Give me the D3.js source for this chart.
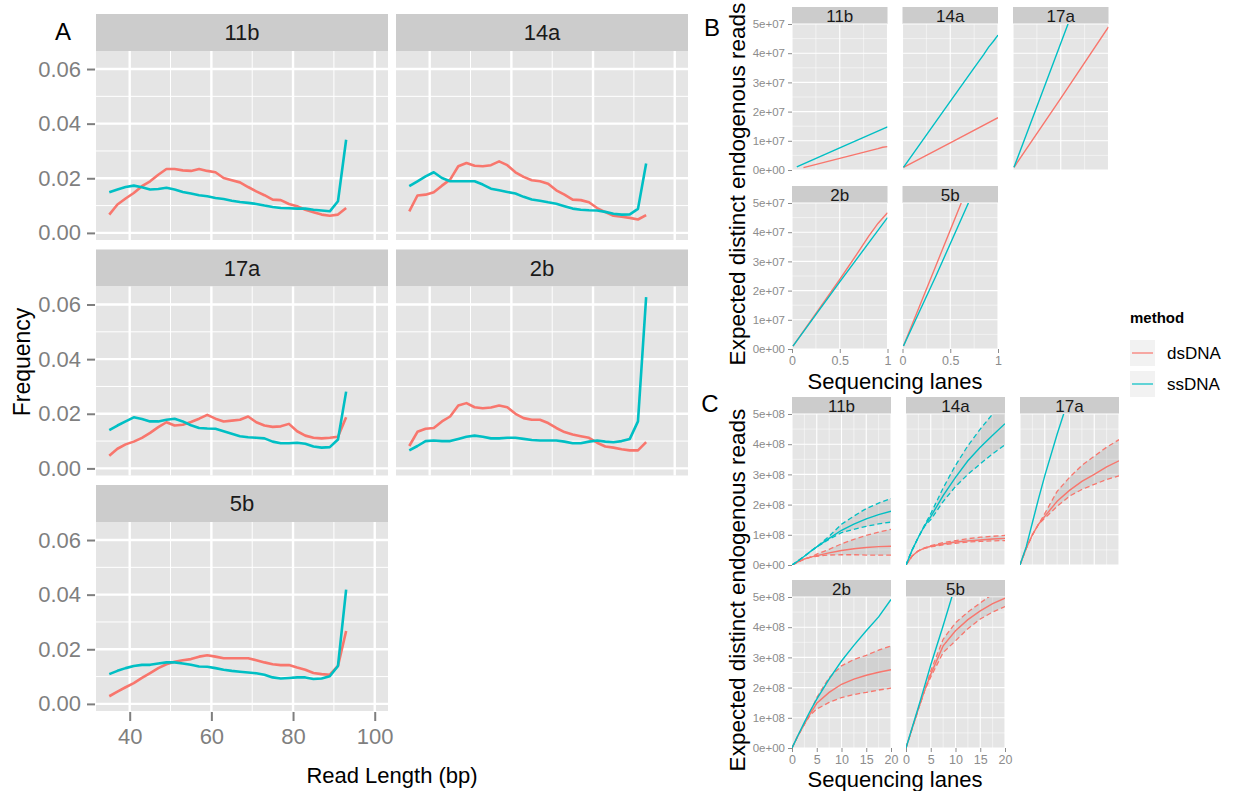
<!DOCTYPE html>
<html>
<head>
<meta charset="utf-8">
<script src="https://cdn.jsdelivr.net/npm/d3@7"></script>
<style>
  body { margin: 0; background: #fff; }
  text { font-family: "Liberation Sans", Arial, sans-serif; }
</style>
</head>
<body>
<svg width="1233" height="791"></svg>
<script>
// ---- data ----
const methods = ['dsDNA', 'ssDNA'];
const methodColors = ['#F8766D', '#00BFC4'];
const samples = ['11b', '14a', '17a', '2b', '5b'];

// panel A: read length distribution
const readLen = [35,37,39,41,43,45,47,49,51,53,55,57,59,61,63,65,67,69,71,73,75,77,79,81,83,85,87,89,91,93];
const freq11bDs = [0.0067,0.0104,0.0126,0.0146,0.0171,0.0189,0.0213,0.0234,0.0234,0.0229,0.0227,0.0234,0.0227,0.0222,0.0201,0.0193,0.0185,0.0168,0.0152,0.0138,0.0122,0.0120,0.0106,0.0098,0.0085,0.0076,0.0067,0.0063,0.0067,0.0091];
const freq11bSs = [0.0149,0.0159,0.0168,0.0173,0.0167,0.0159,0.0161,0.0165,0.0159,0.0150,0.0144,0.0138,0.0134,0.0128,0.0124,0.0118,0.0113,0.0110,0.0106,0.0100,0.0095,0.0091,0.0090,0.0089,0.0089,0.0085,0.0082,0.0079,0.0116,0.0341];
const freq14aDs = [0.0079,0.0137,0.0140,0.0149,0.0173,0.0195,0.0244,0.0256,0.0246,0.0244,0.0248,0.0262,0.0248,0.0222,0.0205,0.0193,0.0189,0.0180,0.0156,0.0140,0.0122,0.0120,0.0112,0.0091,0.0076,0.0063,0.0059,0.0055,0.0049,0.0065];
const freq14aSs = [0.0171,0.0189,0.0207,0.0222,0.0201,0.0189,0.0189,0.0189,0.0189,0.0177,0.0162,0.0156,0.0150,0.0144,0.0132,0.0122,0.0118,0.0112,0.0107,0.0098,0.0089,0.0085,0.0083,0.0082,0.0077,0.0070,0.0067,0.0068,0.0088,0.0254];
const freq17aDs = [0.0046,0.0072,0.0088,0.0098,0.0112,0.0130,0.0151,0.0169,0.0157,0.0160,0.0170,0.0182,0.0196,0.0182,0.0172,0.0175,0.0178,0.0190,0.0169,0.0157,0.0152,0.0154,0.0163,0.0136,0.0120,0.0112,0.0110,0.0112,0.0116,0.0187];
const freq17aSs = [0.0140,0.0157,0.0172,0.0187,0.0181,0.0172,0.0172,0.0178,0.0182,0.0172,0.0158,0.0148,0.0146,0.0145,0.0136,0.0127,0.0118,0.0114,0.0112,0.0110,0.0098,0.0092,0.0092,0.0094,0.0090,0.0080,0.0076,0.0078,0.0106,0.0281];
const freq2bDs = [0.0082,0.0134,0.0145,0.0148,0.0172,0.0190,0.0230,0.0239,0.0224,0.0220,0.0223,0.0230,0.0224,0.0200,0.0184,0.0178,0.0178,0.0166,0.0148,0.0133,0.0124,0.0118,0.0112,0.0094,0.0080,0.0076,0.0070,0.0066,0.0066,0.0096];
const freq2bSs = [0.0066,0.0082,0.0100,0.0102,0.0100,0.0100,0.0108,0.0116,0.0120,0.0116,0.0110,0.0110,0.0112,0.0112,0.0108,0.0104,0.0102,0.0102,0.0102,0.0098,0.0092,0.0092,0.0098,0.0102,0.0098,0.0096,0.0100,0.0108,0.0172,0.0627];
const freq5bDs = [0.0028,0.0045,0.0061,0.0076,0.0095,0.0113,0.0131,0.0145,0.0154,0.0160,0.0164,0.0173,0.0178,0.0173,0.0167,0.0167,0.0167,0.0167,0.0160,0.0152,0.0145,0.0142,0.0142,0.0133,0.0125,0.0113,0.0109,0.0107,0.0139,0.0267];
const freq5bSs = [0.0109,0.0121,0.0131,0.0139,0.0143,0.0143,0.0148,0.0152,0.0152,0.0148,0.0143,0.0137,0.0136,0.0131,0.0125,0.0121,0.0118,0.0115,0.0112,0.0107,0.0097,0.0093,0.0095,0.0097,0.0097,0.0091,0.0093,0.0101,0.0139,0.0418];

// panel B: [lanes, expected reads] for one lane
const b11bDs = [[0.12,0.08e7],[0.5,0.4e7],[0.9,0.73e7],[0.95,0.78e7],[1,0.8e7]];
const b11bSs = [[0.05,0.11e7],[0.5,0.76e7],[1,1.48e7]];
const b14aDs = [[0.01,0.09e7],[0.5,0.93e7],[1,1.79e7]];
const b14aSs = [[0.01,0.09e7],[0.5,2.35e7],[0.75,3.5e7],[0.85,3.95e7],[0.9,4.2e7],[0.95,4.4e7],[1,4.62e7]];
const b17aDs = [[0.01,0.09e7],[0.5,2.45e7],[1,4.9e7]];
const b17aSs = [[0.01,0.09e7],[0.3,2.6e7],[0.576,5.0e7]];
const b2bDs = [[0.01,0.1e7],[0.5,2.38e7],[0.7,3.35e7],[0.8,3.85e7],[0.9,4.3e7],[1,4.67e7]];
const b2bSs = [[0.01,0.1e7],[0.5,2.3e7],[1,4.5e7]];
const b5bDs = [[0.01,0.1e7],[0.3,2.45e7],[0.615,5.0e7]];
const b5bSs = [[0.01,0.1e7],[0.35,2.5e7],[0.69,5.0e7]];

// panel C: lanes grid and expected reads (x1e8): mid, low, high
const cLanes = [0,1.25,2.5,3.75,5,7.5,10,12.5,15,17.5,20];
const c11bDsMid = [0,0.10,0.20,0.26,0.31,0.40,0.48,0.54,0.58,0.61,0.62];
const c11bDsLo  = [0,0.10,0.20,0.26,0.29,0.33,0.34,0.34,0.33,0.33,0.33];
const c11bDsHi  = [0,0.10,0.20,0.26,0.36,0.52,0.70,0.85,0.98,1.09,1.18];
const c11bSsMid = [0,0.14,0.29,0.45,0.60,0.88,1.15,1.35,1.53,1.67,1.78];
const c11bSsLo  = [0,0.14,0.29,0.45,0.60,0.85,1.07,1.18,1.28,1.36,1.42];
const c11bSsHi  = [0,0.14,0.29,0.45,0.60,0.95,1.35,1.62,1.87,2.05,2.20];
const c14aDsMid = [0,0.30,0.47,0.56,0.62,0.70,0.76,0.80,0.83,0.86,0.88];
const c14aDsLo  = [0,0.30,0.47,0.55,0.60,0.67,0.72,0.76,0.78,0.80,0.81];
const c14aDsHi  = [0,0.30,0.47,0.57,0.64,0.74,0.81,0.87,0.92,0.95,0.98];
const c14aSsMid = [0,0.50,0.92,1.30,1.60,2.30,2.90,3.45,3.90,4.30,4.68];
const c14aSsLo  = [0,0.50,0.92,1.28,1.50,2.10,2.60,3.00,3.35,3.68,3.98];
const c14aSsHi  = [0,0.50,0.92,1.32,1.70,2.55,3.30,3.95,4.50,5.00,5.45];
const c17aDsMid = [0,0.55,1.00,1.35,1.61,2.11,2.47,2.77,3.00,3.25,3.45];
const c17aDsLo  = [0,0.55,1.00,1.35,1.55,1.94,2.28,2.50,2.67,2.83,2.95];
const c17aDsHi  = [0,0.55,1.00,1.35,1.70,2.44,2.90,3.30,3.60,3.90,4.15];
const c17aSsMid = [0,0.60,1.40,2.20,2.95,4.33,5.60,null,null,null,null];
const c2bDsMid  = [0,0.42,0.79,1.15,1.48,1.84,2.11,2.28,2.41,2.51,2.59];
const c2bDsLo   = [0,0.42,0.79,1.10,1.29,1.51,1.67,1.77,1.84,1.92,1.98];
const c2bDsHi   = [0,0.42,0.79,1.20,1.67,2.33,2.72,2.93,3.07,3.24,3.38];
const c2bSsMid  = [0,0.43,0.85,1.25,1.62,2.28,2.88,3.40,3.88,4.34,4.92];
const c5bDsMid  = [0,0.65,1.29,1.90,2.44,3.38,3.88,4.25,4.54,4.78,4.96];
const c5bDsLo   = [0,0.65,1.29,1.90,2.35,3.16,3.55,3.95,4.27,4.50,4.68];
const c5bDsHi   = [0,0.65,1.29,1.90,2.55,3.60,4.15,4.50,4.80,5.10,5.35];
const c5bSsMid  = [0,0.68,1.35,2.05,2.75,4.05,5.40,null,null,null,null];

// ---- drawing ----
const svg = d3.select('svg');
let clipN = 0;

function facet(o) {
  const g = svg.append('g');
  const top = o.y + o.stripH;
  g.append('rect').attr('x', o.x).attr('y', o.y).attr('width', o.w).attr('height', o.stripH).attr('fill', '#cccccc');
  g.append('text').attr('x', o.x + o.w / 2).attr('y', o.y + o.stripH / 2).attr('dy', '0.36em')
    .attr('text-anchor', 'middle').attr('font-size', o.stripFont).attr('fill', '#1a1a1a').text(o.label);
  g.append('rect').attr('x', o.x).attr('y', top).attr('width', o.w).attr('height', o.h).attr('fill', '#e5e5e5');
  const sx = d3.scaleLinear().domain(o.xDomain).range([o.x, o.x + o.w]);
  const sy = d3.scaleLinear().domain(o.yDomain).range([top + o.h, top]);
  const grid = (vals, w, vertical) => {
    vals.forEach(v => {
      const l = g.append('line').attr('stroke', '#fff').attr('stroke-width', w);
      if (vertical) l.attr('x1', sx(v)).attr('x2', sx(v)).attr('y1', top).attr('y2', top + o.h);
      else l.attr('x1', o.x).attr('x2', o.x + o.w).attr('y1', sy(v)).attr('y2', sy(v));
    });
  };
  grid(o.yMinor, o.minorW, false);
  grid(o.xMinor, o.minorW, true);
  grid(o.yMajor, o.majorW, false);
  grid(o.xMajor, o.majorW, true);
  const id = 'clip' + (clipN++);
  svg.append('clipPath').attr('id', id).append('rect')
    .attr('x', o.x).attr('y', top).attr('width', o.w).attr('height', o.h);
  const plot = g.append('g').attr('clip-path', `url(#${id})`);
  return { g, plot, sx, sy, top, bottom: top + o.h };
}

function styleAxis(sel, size, color) {
  sel.select('.domain').remove();
  sel.selectAll('.tick line').attr('stroke', color);
  sel.selectAll('.tick text').attr('font-size', size).attr('fill', color)
    .attr('font-family', '"Liberation Sans", Arial, sans-serif');
}

// ---------- Panel A ----------
const freqA = {
  '11b': [freq11bDs, freq11bSs], '14a': [freq14aDs, freq14aSs], '17a': [freq17aDs, freq17aSs],
  '2b': [freq2bDs, freq2bSs], '5b': [freq5bDs, freq5bSs]
};
const aCols = [96, 396];
const aRows = [14, 249.5, 485];
samples.forEach((s, i) => {
  const col = i % 2, row = Math.floor(i / 2);
  const f = facet({
    x: aCols[col], y: aRows[row], w: 292, stripH: 37, h: 189, label: s, stripFont: 22,
    xDomain: [31.75, 103.25], yDomain: [-0.0026, 0.0666],
    xMajor: [40, 60, 80, 100], xMinor: [50, 70, 90],
    yMajor: [0, 0.02, 0.04, 0.06], yMinor: [0.01, 0.03, 0.05],
    majorW: 2.4, minorW: 1
  });
  const line = d3.line().x((d, k) => f.sx(readLen[k])).y(d => f.sy(d));
  freqA[s].forEach((vals, m) => {
    f.plot.append('path').attr('d', line(vals)).attr('fill', 'none')
      .attr('stroke', methodColors[m]).attr('stroke-width', 2.6).attr('stroke-linejoin', 'round');
  });
  if (col === 0) {
    const ax = svg.append('g').attr('transform', `translate(${aCols[0] - 1},0)`)
      .call(d3.axisLeft(f.sy).tickValues([0, 0.02, 0.04, 0.06]).tickFormat(d3.format('.2f')).tickSize(8).tickPadding(6));
    styleAxis(ax, 22, '#7f7f7f');
    ax.selectAll('.tick line').attr('stroke-width', 2);
  }
  if (row === 2) {
    const ax = svg.append('g').attr('transform', `translate(0,${f.bottom + 1})`)
      .call(d3.axisBottom(f.sx).tickValues([40, 60, 80, 100]).tickSize(9).tickPadding(7));
    styleAxis(ax, 22, '#7f7f7f');
    ax.selectAll('.tick line').attr('stroke-width', 2);
  }
});
svg.append('text').attr('x', 63).attr('y', 40).attr('text-anchor', 'middle').attr('font-size', 24).text('A');
svg.append('text').attr('transform', 'translate(30,362) rotate(-90)').attr('text-anchor', 'middle')
  .attr('font-size', 23).text('Frequency');
svg.append('text').attr('x', 392).attr('y', 783).attr('text-anchor', 'middle').attr('font-size', 22).text('Read Length (bp)');

// ---------- Panel B ----------
const linesB = {
  '11b': [b11bDs, b11bSs], '14a': [b14aDs, b14aSs], '17a': [b17aDs, b17aSs],
  '2b': [b2bDs, b2bSs], '5b': [b5bDs, b5bSs]
};
const bCols = [792, 902.5, 1013];
const bRows = [7, 186];
samples.forEach((s, i) => {
  const col = i % 3, row = Math.floor(i / 3);
  const f = facet({
    x: bCols[col], y: bRows[row], w: 95.5, stripH: 17, h: 146, label: s, stripFont: 17,
    xDomain: [0, 1], yDomain: [0, 5e7],
    xMajor: [0, 0.5, 1], xMinor: [0.25, 0.75],
    yMajor: d3.range(0, 5.01e7, 1e7), yMinor: d3.range(0.5e7, 5e7, 1e7),
    majorW: 1.1, minorW: 0.5
  });
  const line = d3.line().x(d => f.sx(d[0])).y(d => f.sy(d[1]));
  linesB[s].forEach((pts, m) => {
    f.plot.append('path').attr('d', line(pts)).attr('fill', 'none')
      .attr('stroke', methodColors[m]).attr('stroke-width', 1.4);
  });
  if (col === 0) {
    const ax = svg.append('g').attr('transform', `translate(${bCols[0]},0)`)
      .call(d3.axisLeft(f.sy).tickValues(d3.range(0, 5.01e7, 1e7))
        .tickFormat(d => d === 0 ? '0e+00' : (d / 1e7) + 'e+07').tickSize(4).tickPadding(3));
    styleAxis(ax, 11.5, '#8c8c8c');
  }
  if (row === 1) {
    const ax = svg.append('g').attr('transform', `translate(0,${f.bottom})`)
      .call(d3.axisBottom(f.sx).tickValues([0, 0.5, 1]).tickFormat(d => String(d)).tickSize(4).tickPadding(3));
    styleAxis(ax, 12.5, '#8c8c8c');
  }
});
svg.append('text').attr('x', 712).attr('y', 36).attr('text-anchor', 'middle').attr('font-size', 24).text('B');
svg.append('text').attr('transform', 'translate(745,184) rotate(-90)').attr('text-anchor', 'middle')
  .attr('font-size', 22.5).text('Expected distinct endogenous reads');
svg.append('text').attr('x', 895).attr('y', 389).attr('text-anchor', 'middle').attr('font-size', 22).text('Sequencing lanes');

// ---------- Panel C ----------
const curvesC = {
  '11b': [[c11bDsMid, c11bDsLo, c11bDsHi], [c11bSsMid, c11bSsLo, c11bSsHi]],
  '14a': [[c14aDsMid, c14aDsLo, c14aDsHi], [c14aSsMid, c14aSsLo, c14aSsHi]],
  '17a': [[c17aDsMid, c17aDsLo, c17aDsHi], [c17aSsMid]],
  '2b':  [[c2bDsMid, c2bDsLo, c2bDsHi], [c2bSsMid]],
  '5b':  [[c5bDsMid, c5bDsLo, c5bDsHi], [c5bSsMid]]
};
const cCols = [792, 906, 1020];
const cRows = [397, 580];
samples.forEach((s, i) => {
  const col = i % 3, row = Math.floor(i / 3);
  const f = facet({
    x: cCols[col], y: cRows[row], w: 99, stripH: 17, h: 151, label: s, stripFont: 17,
    xDomain: [0, 20], yDomain: [0, 5e8],
    xMajor: [0, 5, 10, 15, 20], xMinor: [2.5, 7.5, 12.5, 17.5],
    yMajor: d3.range(0, 5.01e8, 1e8), yMinor: d3.range(0.5e8, 5e8, 1e8),
    majorW: 1.1, minorW: 0.5
  });
  const line = d3.line().defined(d => d != null).x((d, k) => f.sx(cLanes[k])).y(d => f.sy(d * 1e8));
  curvesC[s].forEach((set, m) => {
    if (set.length === 3) {
      const area = d3.area().x((d, k) => f.sx(cLanes[k])).y0((d, k) => f.sy(set[1][k] * 1e8)).y1((d, k) => f.sy(set[2][k] * 1e8));
      f.plot.append('path').attr('d', area(set[0])).attr('fill', '#999999').attr('fill-opacity', 0.25);
      [set[1], set[2]].forEach(b => {
        f.plot.append('path').attr('d', line(b)).attr('fill', 'none')
          .attr('stroke', methodColors[m]).attr('stroke-width', 1.3).attr('stroke-dasharray', '5,3');
      });
    }
    f.plot.append('path').attr('d', line(set[0])).attr('fill', 'none')
      .attr('stroke', methodColors[m]).attr('stroke-width', 1.4);
  });
  if (col === 0) {
    const ax = svg.append('g').attr('transform', `translate(${cCols[0]},0)`)
      .call(d3.axisLeft(f.sy).tickValues(d3.range(0, 5.01e8, 1e8))
        .tickFormat(d => d === 0 ? '0e+00' : (d / 1e8) + 'e+08').tickSize(4).tickPadding(3));
    styleAxis(ax, 11.5, '#8c8c8c');
  }
  if (row === 1) {
    const ax = svg.append('g').attr('transform', `translate(0,${f.bottom})`)
      .call(d3.axisBottom(f.sx).tickValues([0, 5, 10, 15, 20]).tickSize(4).tickPadding(3));
    styleAxis(ax, 12.5, '#8c8c8c');
  }
});
svg.append('text').attr('x', 710).attr('y', 412).attr('text-anchor', 'middle').attr('font-size', 24).text('C');
svg.append('text').attr('transform', 'translate(745,590) rotate(-90)').attr('text-anchor', 'middle')
  .attr('font-size', 22.5).text('Expected distinct endogenous reads');
svg.append('text').attr('x', 895).attr('y', 787).attr('text-anchor', 'middle').attr('font-size', 22).text('Sequencing lanes');

// ---------- Legend ----------
const leg = svg.append('g').attr('transform', 'translate(1130,0)');
leg.append('text').attr('x', 0).attr('y', 323).attr('font-size', 15).attr('font-weight', 'bold').text('method');
methods.forEach((m, k) => {
  const y = 340 + k * 31;
  leg.append('rect').attr('x', 0).attr('y', y).attr('width', 25).attr('height', 26).attr('fill', '#f2f2f2');
  leg.append('line').attr('x1', 2).attr('x2', 23).attr('y1', y + 13).attr('y2', y + 13)
    .attr('stroke', methodColors[k]).attr('stroke-width', 1.2);
  leg.append('text').attr('x', 37).attr('y', y + 13).attr('dy', '0.36em').attr('font-size', 17).text(m);
});
</script>
</body>
</html>
